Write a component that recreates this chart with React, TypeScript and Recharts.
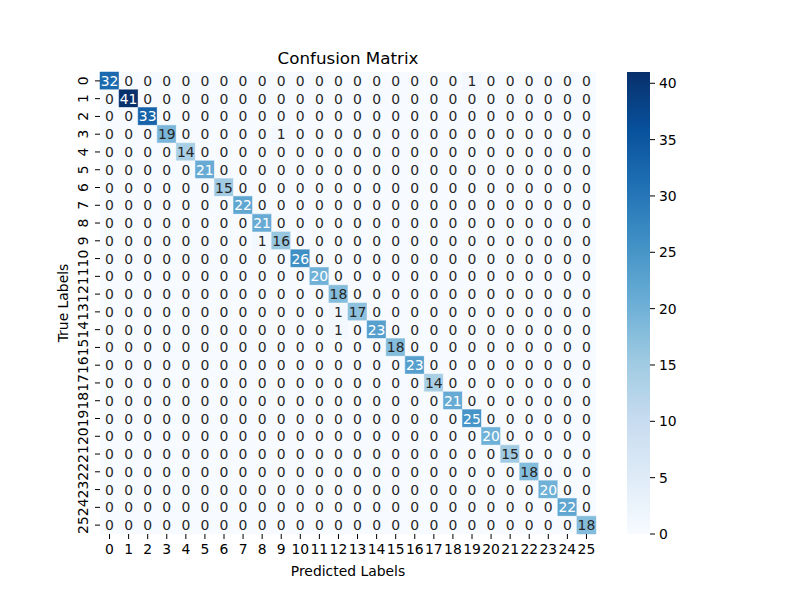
import { BarChart, Bar, XAxis, YAxis, Cell, LabelList, Label } from 'recharts';

// class names shared by both axes
const classLabels = ['0', '1', '2', '3', '4', '5', '6', '7', '8', '9', '10', '11', '12', '13', '14', '15', '16', '17', '18', '19', '20', '21', '22', '23', '24', '25'];

// correct predictions (diagonal of the matrix)
const diagonal = [32, 41, 33, 19, 14, 21, 15, 22, 21, 16, 26, 20, 18, 17, 23, 18, 23, 14, 21, 25, 20, 15, 18, 20, 22, 18];

// [true, predicted, count] for the few mistakes
const mistakes: [number, number, number][] = [
  [0, 19, 1],
  [3, 9, 1],
  [9, 8, 1],
  [13, 12, 1],
  [14, 12, 1],
];

const colorbarTicks = [0, 5, 10, 15, 20, 25, 30, 35, 40];

// matplotlib "Blues"
const BLUES = ['#f7fbff', '#deebf7', '#c6dbef', '#9ecae1', '#6baed6', '#4292c6', '#2171b5', '#08519c', '#08306b'];
const FONT = '"DejaVu Sans", sans-serif';
const FS = 13.9;

const matrix = classLabels.map((_, r) => classLabels.map((_, c) => (r === c ? diagonal[r] : 0)));
mistakes.forEach(([r, c, v]) => {
  matrix[r][c] = v;
});
const vmax = Math.max(...matrix.map((row) => Math.max(...row)));

// one entry per predicted column, one stacked segment per true row
const heatData = classLabels.map((label, c) => {
  const entry: Record<string, number | string> = { pred: label };
  classLabels.forEach((_, r) => {
    entry[`r${r}`] = 1;
    entry[`v${r}`] = matrix[r][c];
  });
  return entry;
});

const hexToRgb = (h: string) => [1, 3, 5].map((i) => parseInt(h.slice(i, i + 2), 16));

function bluesRgb(value: number) {
  const t = Math.min(Math.max(value / vmax, 0), 1) * (BLUES.length - 1);
  const i = Math.min(Math.floor(t), BLUES.length - 2);
  const f = t - i;
  const a = hexToRgb(BLUES[i]);
  const b = hexToRgb(BLUES[i + 1]);
  return a.map((x, k) => Math.round(x + (b[k] - x) * f));
}

const bluesColor = (value: number) => {
  const [r, g, b] = bluesRgb(value);
  return `rgb(${r},${g},${b})`;
};

// seaborn picks dark or white annotation text from the cell luminance
function textColor(value: number) {
  const lin = bluesRgb(value).map((x) => {
    const c = x / 255;
    return c <= 0.03928 ? c / 12.92 : Math.pow((c + 0.055) / 1.055, 2.4);
  });
  const lum = 0.2126 * lin[0] + 0.7152 * lin[1] + 0.0722 * lin[2];
  return lum > 0.408 ? '#262626' : '#ffffff';
}

const renderCellLabel = (props: any) => {
  const box = props.viewBox && props.viewBox.width != null ? props.viewBox : props;
  const v = Number(props.value);
  return (
    <text
      x={box.x + box.width / 2}
      y={box.y + box.height / 2}
      textAnchor="middle"
      dominantBaseline="central"
      fill={textColor(v)}
      fontSize={FS}
      fontFamily={FONT}
    >
      {v}
    </text>
  );
};

const RotatedTick = (props: any) => {
  const { x, y, payload } = props;
  const cx = x - 7;
  return (
    <text
      x={cx}
      y={y}
      transform={`rotate(-90, ${cx}, ${y})`}
      textAnchor="middle"
      dominantBaseline="central"
      fill="#000"
      fontSize={FS}
      fontFamily={FONT}
    >
      {classLabels[Math.round(payload.value - 0.5)]}
    </text>
  );
};

const rowTicks = classLabels.map((_, i) => i + 0.5);

export default function App() {
  return (
    <div style={{ position: 'absolute', left: 0, top: 0, width: 800, height: 600, background: '#fff', fontFamily: FONT }}>
      <svg width={800} height={600} style={{ position: 'absolute', left: 0, top: 0, pointerEvents: 'none' }}>
        <text x={348} y={64} textAnchor="middle" fontSize={16.7} fontFamily={FONT} fill="#000">
          Confusion Matrix
        </text>
      </svg>

      <div style={{ position: 'absolute', left: 0, top: 0 }}>
        <BarChart
          width={800}
          height={600}
          data={heatData}
          margin={{ top: 72, right: 204, bottom: 21, left: 55 }}
          barCategoryGap={0}
          barGap={0}
        >
          <XAxis
            dataKey="pred"
            interval={0}
            height={45}
            axisLine={false}
            tickLine={{ stroke: '#000' }}
            tickSize={5}
            tickMargin={5}
            tick={{ fill: '#000', fontSize: FS, fontFamily: FONT }}
          >
            <Label value="Predicted Labels" position="insideBottom" offset={3} fill="#000" fontSize={FS} fontFamily={FONT} />
          </XAxis>
          <YAxis
            type="number"
            domain={[0, 26]}
            reversed
            ticks={rowTicks}
            interval={0}
            width={45}
            axisLine={false}
            tickLine={{ stroke: '#000' }}
            tickSize={5}
            tickMargin={5}
            tick={<RotatedTick />}
          >
            <Label
              content={(p: any) => {
                const vb = p.viewBox;
                const lx = vb.x + 8;
                const ly = vb.y + vb.height / 2;
                return (
                  <text
                    x={lx}
                    y={ly}
                    transform={`rotate(-90, ${lx}, ${ly})`}
                    textAnchor="middle"
                    dominantBaseline="central"
                    fill="#000"
                    fontSize={FS}
                    fontFamily={FONT}
                  >
                    True Labels
                  </text>
                );
              }}
            />
          </YAxis>
          {classLabels.map((_, r) => (
            <Bar key={r} dataKey={`r${r}`} stackId="cm" isAnimationActive={false}>
              {heatData.map((_, c) => (
                <Cell key={c} fill={bluesColor(matrix[r][c])} stroke={bluesColor(matrix[r][c])} strokeWidth={0.5} />
              ))}
              <LabelList dataKey={`v${r}`} position="center" content={renderCellLabel} />
            </Bar>
          ))}
        </BarChart>
      </div>

      <div style={{ position: 'absolute', left: 627, top: 0 }}>
        <BarChart
          width={63}
          height={600}
          data={[{ name: 'scale', v: vmax }]}
          margin={{ top: 72, right: 0, bottom: 66, left: 0 }}
          barCategoryGap={0}
        >
          <defs>
            <linearGradient id="bluesGrad" x1="0" y1="0" x2="0" y2="1">
              {BLUES.slice()
                .reverse()
                .map((c, i) => (
                  <stop key={c} offset={`${(i / (BLUES.length - 1)) * 100}%`} stopColor={c} />
                ))}
            </linearGradient>
          </defs>
          <XAxis dataKey="name" hide />
          <YAxis
            orientation="right"
            domain={[0, vmax]}
            ticks={colorbarTicks}
            width={40}
            axisLine={false}
            tickLine={{ stroke: '#000' }}
            tickSize={5}
            tickMargin={4}
            tick={{ fill: '#000', fontSize: FS, fontFamily: FONT }}
          />
          <Bar dataKey="v" fill="url(#bluesGrad)" isAnimationActive={false} />
        </BarChart>
      </div>
    </div>
  );
}
